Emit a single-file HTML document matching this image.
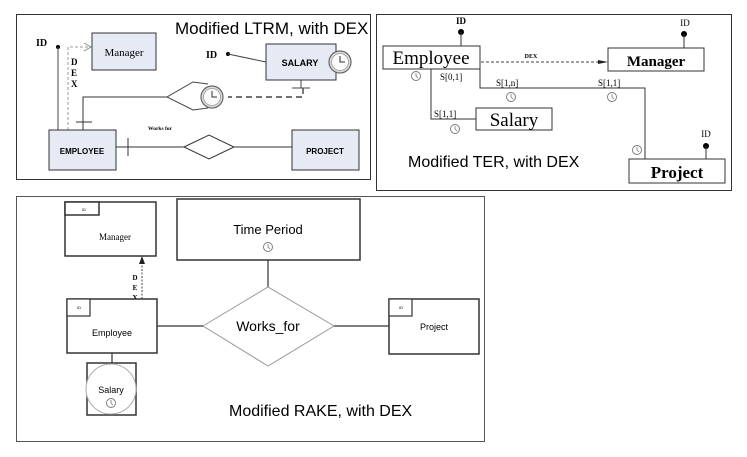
<!DOCTYPE html>
<html><head><meta charset="utf-8"><style>
html,body{margin:0;padding:0;background:#fff;width:747px;height:457px;overflow:hidden}
svg{display:block}
.s{font-family:"Liberation Serif",serif}
.a{font-family:"Liberation Sans",sans-serif}
</style></head><body>
<svg width="747" height="457" viewBox="0 0 747 457" xmlns="http://www.w3.org/2000/svg">
<defs>
<g id="clk"><circle r="11" fill="#ddd" stroke="#666" stroke-width="1.2"/><circle r="8.5" fill="#fafafa" stroke="#999" stroke-width="0.8"/><path d="M0 -6 V0 H5" stroke="#333" stroke-width="1" fill="none"/></g>
<g id="sc"><circle r="4.5" fill="none" stroke="#777" stroke-width="0.9"/><path d="M0 -3 V0 L2 2" stroke="#777" stroke-width="0.8" fill="none"/></g>
</defs>
<!-- Panel 1 -->
<rect x="16.5" y="14.5" width="354" height="165" fill="#fff" stroke="#333" stroke-width="1"/>
<text x="175" y="34" class="a" font-size="17">Modified LTRM, with DEX</text>
<rect x="92" y="33" width="64" height="37" fill="#e6eaf5" stroke="#333"/>
<text x="124" y="56" class="s" font-size="11" text-anchor="middle">Manager</text>
<text x="36" y="46" class="s" font-size="10" font-weight="bold">ID</text>
<circle cx="58" cy="47" r="2" fill="#000"/>
<line x1="58" y1="47" x2="58" y2="130" stroke="#444"/>
<path d="M68 130 V47 H90" stroke="#999" stroke-dasharray="3,2" fill="none"/>
<path d="M84 43 L91 47 L84 51" stroke="#888" fill="none"/>
<text x="71" y="65" class="s" font-size="9" font-weight="bold">D</text>
<text x="71" y="76" class="s" font-size="9" font-weight="bold">E</text>
<text x="71" y="87" class="s" font-size="9" font-weight="bold">X</text>
<rect x="266" y="44" width="70" height="36" fill="#e6eaf5" stroke="#333"/>
<text x="300" y="66" class="a" font-size="9" font-weight="bold" text-anchor="middle">SALARY</text>
<use href="#clk" x="340" y="62"/>
<text x="206" y="58" class="s" font-size="10" font-weight="bold">ID</text>
<circle cx="228" cy="54" r="2" fill="#000"/>
<line x1="228" y1="54" x2="266" y2="62" stroke="#444"/>
<line x1="301" y1="80" x2="301" y2="88" stroke="#444"/>
<line x1="292" y1="88" x2="310" y2="88" stroke="#444"/>
<path d="M303 88 V97 H228" stroke="#444" stroke-width="1.4" stroke-dasharray="6,4" fill="none"/>
<path d="M208 84 L193 82 L167 97 L193 110 L208 108" stroke="#444" fill="#fff"/>
<use href="#clk" x="212" y="97"/>
<path d="M167 97 H83 V130" stroke="#333" fill="none"/>
<line x1="76" y1="122" x2="92" y2="122" stroke="#333"/>
<rect x="49" y="130" width="67" height="40" fill="#e6eaf5" stroke="#333"/>
<text x="82" y="154" class="a" font-size="8" font-weight="bold" text-anchor="middle">EMPLOYEE</text>
<rect x="292" y="130" width="67" height="40" fill="#e6eaf5" stroke="#333"/>
<text x="325" y="154" class="a" font-size="8" font-weight="bold" text-anchor="middle">PROJECT</text>
<line x1="116" y1="147" x2="292" y2="147" stroke="#333"/>
<line x1="128" y1="138" x2="128" y2="156" stroke="#333"/>
<path d="M184 147 L209 135 L234 147 L209 159 Z" fill="#fff" stroke="#333"/>
<text x="148" y="130" class="s" font-size="5.5" font-weight="bold">Works for</text>
<!-- Panel 2 -->
<rect x="376.5" y="14.5" width="355" height="176" fill="#fff" stroke="#333" stroke-width="1"/>
<rect x="383" y="46" width="97" height="23" fill="#fff" stroke="#333"/>
<text x="431" y="64" class="s" font-size="19" text-anchor="middle">Employee</text>
<text x="461" y="24" class="s" font-size="9" font-weight="bold" text-anchor="middle">ID</text>
<circle cx="461" cy="32" r="3" fill="#000"/>
<line x1="461" y1="32" x2="461" y2="46" stroke="#333"/>
<rect x="608" y="48" width="96" height="23" fill="#fff" stroke="#333"/>
<text x="656" y="66" class="s" font-size="15" font-weight="bold" text-anchor="middle">Manager</text>
<text x="685" y="26" class="s" font-size="9" text-anchor="middle">ID</text>
<circle cx="684" cy="34" r="3" fill="#000"/>
<line x1="684" y1="34" x2="684" y2="48" stroke="#333"/>
<line x1="481" y1="62" x2="603" y2="62" stroke="#444" stroke-dasharray="3,2"/>
<path d="M598 60 L608 62 L598 64 Z" fill="#222"/>
<text x="531" y="58" class="s" font-size="6" font-weight="bold" text-anchor="middle">DEX</text>
<path d="M431 69 V119 H476" stroke="#333" fill="none"/>
<rect x="476" y="108" width="76" height="22" fill="#fff" stroke="#333"/>
<text x="514" y="126" class="s" font-size="19" text-anchor="middle">Salary</text>
<path d="M480 69 V88 H645 V159" stroke="#333" fill="none"/>
<rect x="629" y="159" width="96" height="24" fill="#fff" stroke="#333"/>
<text x="677" y="178" class="s" font-size="17" font-weight="bold" text-anchor="middle">Project</text>
<text x="706" y="137" class="s" font-size="9" text-anchor="middle">ID</text>
<circle cx="706" cy="146" r="3" fill="#000"/>
<line x1="706" y1="146" x2="706" y2="159" stroke="#333"/>
<text x="440" y="80" class="s" font-size="9">S[0,1]</text>
<text x="434" y="117" class="s" font-size="9">S[1,1]</text>
<text x="496" y="86" class="s" font-size="9">S[1,n]</text>
<text x="598" y="86" class="s" font-size="9">S[1,1]</text>
<use href="#sc" x="416" y="76"/>
<use href="#sc" x="455" y="129"/>
<use href="#sc" x="511" y="97"/>
<use href="#sc" x="612" y="97"/>
<use href="#sc" x="637" y="150"/>
<text x="408" y="167" class="a" font-size="16">Modified TER, with DEX</text>
<!-- Panel 3 -->
<rect x="16.5" y="196.5" width="468" height="245" fill="#fff" stroke="#555" stroke-width="1"/>
<rect x="65" y="202" width="91" height="54" fill="#fff" stroke="#333" stroke-width="1.5"/>
<rect x="65" y="202" width="34" height="13" fill="#fff" stroke="#333" stroke-width="1.5"/>
<text x="82" y="211" class="a" font-size="4">ID</text>
<text x="115" y="240" class="s" font-size="9" text-anchor="middle">Manager</text>
<path d="M142 299 V262" stroke="#444" stroke-dasharray="2,1.5"/>
<path d="M139 264 L142 256 L145 264 Z" fill="#222"/>
<text x="135" y="280" class="s" font-size="7" font-weight="bold" text-anchor="middle">D</text>
<text x="135" y="290" class="s" font-size="7" font-weight="bold" text-anchor="middle">E</text>
<text x="135" y="300" class="s" font-size="7" font-weight="bold" text-anchor="middle">X</text>
<rect x="177" y="199" width="183" height="61" fill="#fff" stroke="#333" stroke-width="1.5"/>
<text x="268" y="234" class="a" font-size="13" text-anchor="middle">Time Period</text>
<use href="#sc" x="268" y="247"/>
<line x1="268" y1="260" x2="268" y2="287" stroke="#333" stroke-width="1.2"/>
<path d="M203 326 L268 287 L334 326 L268 366 Z" fill="#fff" stroke="#999"/>
<text x="268" y="331" class="a" font-size="14" text-anchor="middle">Works_for</text>
<rect x="67" y="299" width="90" height="54" fill="#fff" stroke="#333" stroke-width="1.5"/>
<rect x="67" y="299" width="23" height="17" fill="#fff" stroke="#333" stroke-width="1.2"/>
<text x="77" y="309" class="a" font-size="4">ID</text>
<text x="112" y="336" class="a" font-size="9" text-anchor="middle">Employee</text>
<line x1="157" y1="326" x2="203" y2="326" stroke="#333" stroke-width="1.2"/>
<rect x="389" y="299" width="90" height="55" fill="#fff" stroke="#333" stroke-width="1.5"/>
<rect x="389" y="299" width="23" height="17" fill="#fff" stroke="#333" stroke-width="1.2"/>
<text x="399" y="309" class="a" font-size="4">ID</text>
<text x="434" y="330" class="a" font-size="9" text-anchor="middle">Project</text>
<line x1="334" y1="326" x2="389" y2="326" stroke="#333" stroke-width="1.2"/>
<line x1="112" y1="353" x2="112" y2="363" stroke="#333" stroke-width="1.2"/>
<rect x="87" y="363" width="49" height="52" fill="#fff" stroke="#333" stroke-width="1.5"/>
<circle cx="111" cy="389" r="25" fill="#fff" stroke="#aaa"/>
<text x="111" y="393" class="a" font-size="9" text-anchor="middle">Salary</text>
<use href="#sc" x="111" y="403"/>
<text x="229" y="416" class="a" font-size="16">Modified RAKE, with DEX</text>
</svg>
</body></html>
